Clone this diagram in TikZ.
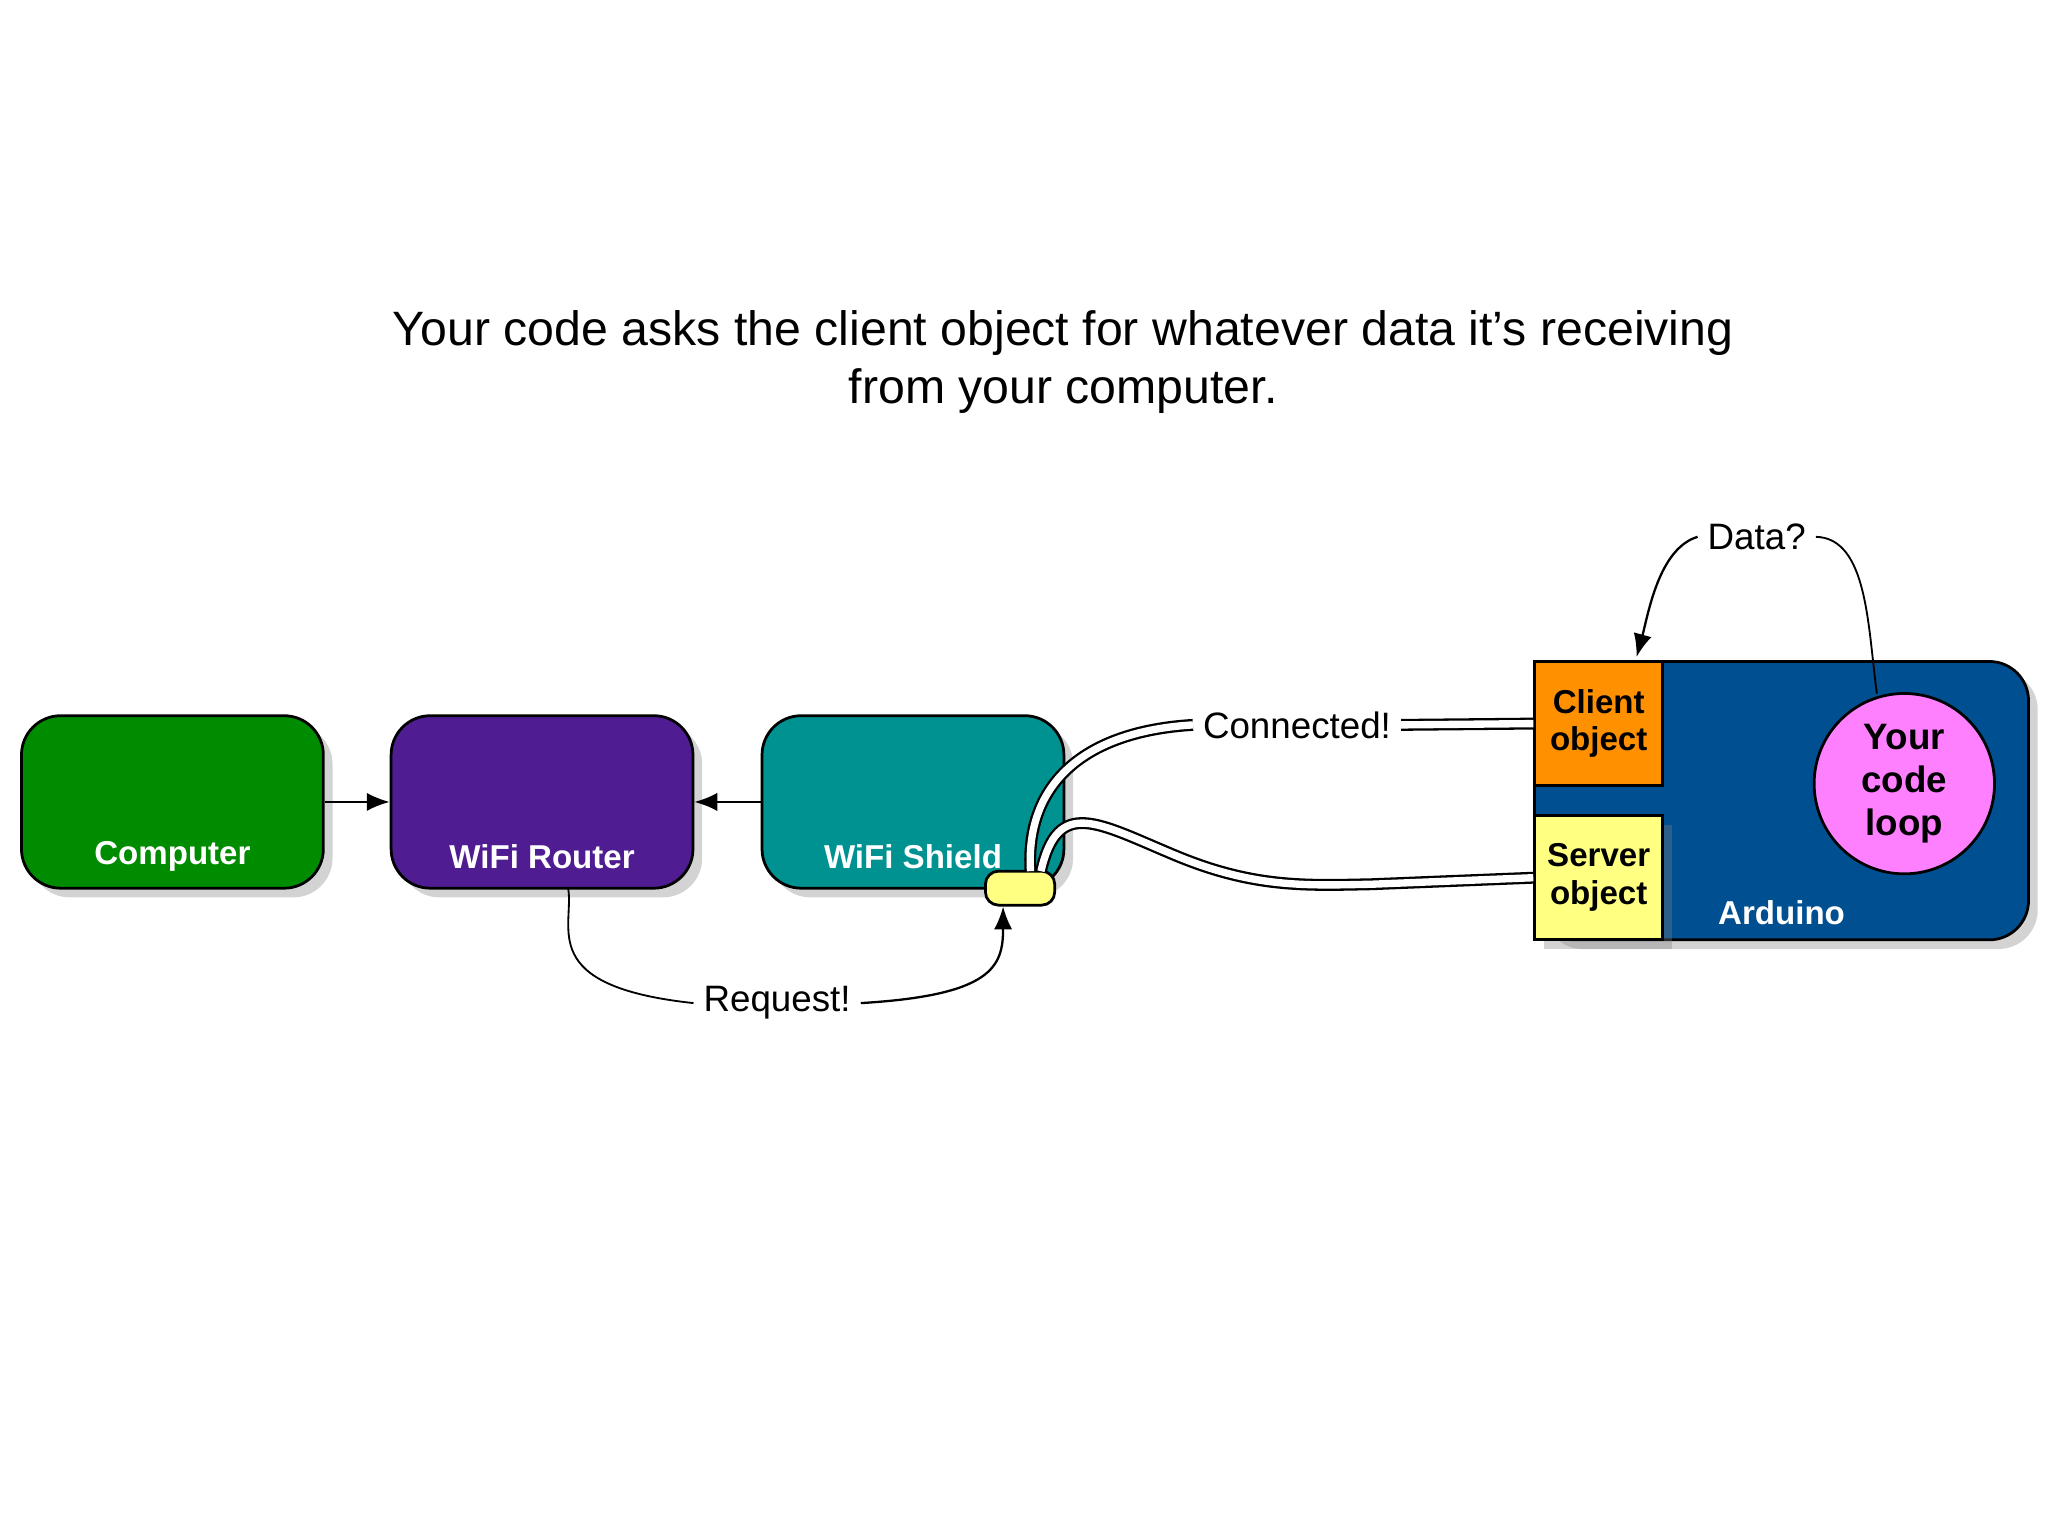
\documentclass[tikz,border=0pt]{standalone}
\usepackage{fontspec}
\setmainfont{Liberation Sans}
\usetikzlibrary{shadows,arrows.meta}
\definecolor{cgreen}{RGB}{0,140,0}
\definecolor{cpurple}{RGB}{80,28,145}
\definecolor{cteal}{RGB}{0,145,145}
\definecolor{cblue}{RGB}{0,80,145}
\definecolor{corange}{RGB}{255,145,0}
\definecolor{cyellow}{RGB}{255,255,130}
\definecolor{cpink}{RGB}{255,128,255}
\begin{document}
\begin{tikzpicture}[x=0.01cm,y=-0.01cm,
 box/.style={draw=black,line width=0.6pt,rounded corners=0.3cm,minimum width=2.31cm,minimum height=1.32cm,drop shadow={opacity=0.35,shadow xshift=2pt,shadow yshift=-2pt}},
 blab/.style={text=white,font=\bfseries\fontsize{7.2}{9}\selectfont},
 sq/.style={draw=black,line width=0.6pt,minimum width=0.98cm,minimum height=0.95cm,align=center,font=\bfseries\fontsize{7.2}{8.2}\selectfont,inner sep=0pt},
 lab/.style={font=\fontsize{8}{9}\selectfont,fill=white,inner sep=2pt},
 arr/.style={-{Latex[length=5pt,width=4pt]},line width=0.5pt},
 dbl/.style={double,double distance=1.6pt,line width=0.5pt}]
\useasboundingbox (0,0) rectangle (1568,1176);
\node[align=center,font=\fontsize{10.5}{12.6}\selectfont] (title) at (814,277) {Your code asks the client object for whatever data it’s receiving\\from your computer.};
\node[box,fill=cgreen] (comp) at (132,614) {};
\node[box,fill=cpurple] (rout) at (415,614) {};
\node[box,fill=cteal] (shld) at (699,614) {};
\node[blab] at (132,656) {Computer};
\node[blab] at (415,656) {WiFi Router};
\node[blab] at (699,656) {WiFi Shield};
\node[box,fill=cblue,minimum width=3.78cm,minimum height=2.13cm] (ard) at (1364,613) {};
\node[blab] at (1364,699) {Arduino};
\node[sq,fill=corange] (client) at (1224,554) {Client\\object};
\node[sq,fill=cyellow,drop shadow={opacity=0.35,shadow xshift=2pt,shadow yshift=-2pt}] (server) at (1224,672) {Server\\object};
\node[circle,draw=black,line width=0.6pt,fill=cpink,minimum size=1.38cm,align=center,font=\bfseries\fontsize{8}{9.3}\selectfont,inner sep=0pt] (loop) at (1458,600) {Your\\code\\loop};
\node[draw=black,line width=0.6pt,fill=cyellow,rounded corners=0.1cm,minimum width=0.53cm,minimum height=0.26cm,inner sep=0pt] (plug) at (781,680) {};
\draw[arr] (comp.east) -- (rout.west);
\draw[arr] (shld.west) -- (rout.east);
\node[lab] (req) at (595,768) {Request!};
\coordinate (rs) at (435,680);
\draw (rs) .. controls (440,710) and (410,755) .. (req.west);
\draw[arr] (req.east) .. controls (760,762) and (768,740) .. (plug.south -| 768,0);
\node[lab] (data) at (1345,411) {Data?};
\coordinate (ls) at (1437,531);
\draw (ls) .. controls (1430,480) and (1430,412) .. (data.east);
\draw[arr] (data.west) .. controls (1270,420) and (1262,470) .. (1253,503);
\node[lab] (conn) at (993,555) {Connected!};
\draw[dbl] (789,667) .. controls (785,600) and (830,560) .. (conn.west);
\draw[dbl] (conn.east) -- (client.west);
\draw[dbl] (797,667) .. controls (810,610) and (840,630) .. (900,655) .. controls (960,680) and (1000,678) .. (1050,677) -- (server.west);
\end{tikzpicture}
\end{document}
